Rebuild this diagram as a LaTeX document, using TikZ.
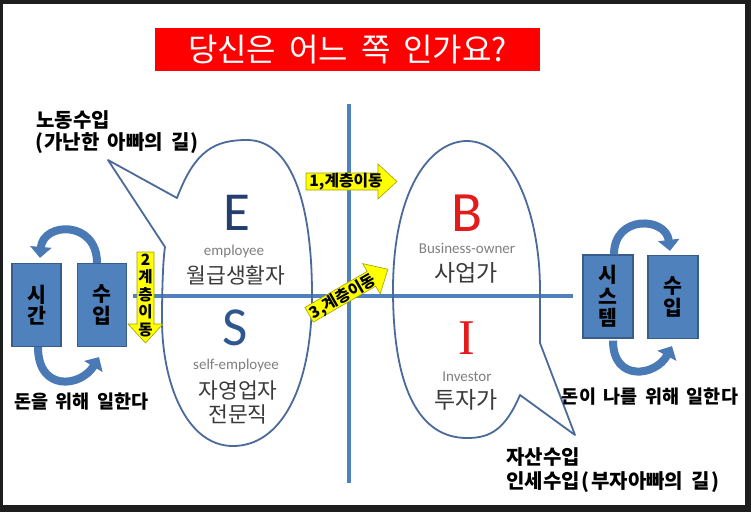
\documentclass[tikz,border=0pt]{standalone}
\usepackage{fontspec}
\setmainfont{Carlito}
\newfontfamily\kr{Noto Sans CJK KR}
\newfontfamily\krl[WordSpace=1.8]{Noto Sans CJK KR}
\newfontfamily\calf{Carlito}
\newfontfamily\tmsf{Liberation Serif}
\usetikzlibrary{arrows.meta}
\definecolor{axisblue}{HTML}{4F81BD}
\definecolor{bubblec}{HTML}{4A6A9C}
\definecolor{boxfill}{HTML}{4F81BD}
\definecolor{boxline}{HTML}{385D8A}
\definecolor{curvec}{HTML}{4A7AB5}
\definecolor{framec}{HTML}{1E1E1E}
\definecolor{titlered}{HTML}{FF0000}
\definecolor{ecol}{HTML}{243F6D}
\definecolor{scol}{HTML}{2E568F}
\definecolor{bred}{HTML}{E31B1B}
\definecolor{engray}{HTML}{7F7F7F}
\definecolor{krgray}{HTML}{3A3A3A}
\definecolor{yel}{HTML}{FFFF00}
\definecolor{yeld}{HTML}{A0A000}
\newcommand\fsz[1]{\fontsize{#1pt}{#1pt}\selectfont}
\tikzset{
  yarrow/.pic={\filldraw[fill=yel, draw=yeld, line width=0.6pt, line join=miter]
    (-45.5pt,-8.5pt) -- (26.5pt,-8.5pt) -- (26.5pt,-17.5pt) -- (45.5pt,0pt)
    -- (26.5pt,17.5pt) -- (26.5pt,8.5pt) -- (-45.5pt,8.5pt) -- cycle;}
}
\begin{document}
\begin{tikzpicture}[x=1pt,y=-1pt,
  lbl/.style={inner sep=0pt, font=\krl\bfseries\fsz{20}, text=black},
  lblm/.style={inner sep=0pt, font=\kr\bfseries\fsz{18.5}, text=black},
  engl/.style={inner sep=0pt, font=\calf\fsz{15}, text=engray},
  kor/.style={inner sep=0pt, font=\kr\fsz{21.5}, text=krgray},
  kor2/.style={inner sep=0pt, font=\kr\fsz{23}, text=krgray},
  bluebox/.style={draw=boxline, line width=1.2pt, fill=boxfill, minimum width=49pt,
     minimum height=83pt, inner sep=0pt, align=center,
     font=\kr\bfseries\fontsize{20.5pt}{21.5pt}\selectfont, text=black},
  axis/.style={draw=axisblue, line width=3.2pt},
  bubble/.style={draw=bubblec, line width=1.8pt, line join=round},
  curved/.style={draw=curvec, line width=8pt, -{Triangle[width=21pt,length=11pt]}},
  ytext/.style={inner sep=0pt, font=\kr\bfseries\fsz{15.8}, text=black},
]
\fill[framec] (0,0) rectangle (751,512);
\fill[white] (3,4) rectangle (745,505);
\useasboundingbox (0,0) rectangle (751,512);

% title
\node[fill=titlered, minimum width=385pt, minimum height=43pt, inner sep=0pt,
      font=\kr\fsz{32}, text=white] (title) at (347.5,49.5) {당신은 어느 쪽 인가요?};

% axes
\coordinate (vt) at (349,104); \coordinate (vb) at (349,483);
\coordinate (hl) at (133,296); \coordinate (hr) at (573,296);
\draw[axis] (vt) -- (vb);
\draw[axis] (hl) -- (hr);

% left bubble (E/S)
\draw[bubble] (108,160) -- (177,198) .. controls (195,150) and (215,140) .. (247,140)
  .. controls (290,140) and (312,200) .. (312,295)
  .. controls (312,390) and (280,446) .. (233,446)
  .. controls (185,446) and (162,380) .. (162,320)
  .. controls (162,290) and (163,260) .. (165,247) -- cycle;

% right bubble (B/I)
\draw[bubble] (575,435) -- (520,395) .. controls (505,430) and (490,438) .. (467,438)
  .. controls (420,438) and (393,390) .. (393,290)
  .. controls (393,190) and (430,141) .. (467,141)
  .. controls (510,141) and (540,210) .. (540,290)
  .. controls (540,310) and (540,330) .. (540,343) -- cycle;

% bubble texts
\node[inner sep=0pt, font=\calf\fsz{55}, text=ecol] (E) at (237,213) {E};
\node[engl] (emp) at (234,251) {employee};
\node[kor] (wol) at (236,275) {월급생활자};
\node[inner sep=0pt, font=\calf\fsz{55}, text=scol] (S) at (235,328) {S};
\node[engl] (semp) at (236,365) {self-employee};
\node[kor] (jay) at (238,390) {자영업자};
\node[kor] (jeon) at (238,414) {전문직};

\node[inner sep=0pt, font=\calf\fsz{57}, text=bred] (B) at (467,213) {B};
\node[engl] (bus) at (467,248) {Business-owner};
\node[kor2] (sa) at (466,273) {사업가};
\node[inner sep=0pt, font=\tmsf\fsz{50}, text=bred] (I) at (467,338) {I};
\node[engl] (inv) at (467,377) {Investor};
\node[kor2] (tu) at (466,400) {투자가};

% outer labels
\node[lbl, anchor=west] (nodong) at (36,120) {노동수입};
\node[lbl, anchor=west] (poor) at (35,143) {(\kern1pt 가난한 아빠의 길\kern1pt)};
\node[lblm] (donA) at (81.5,402) {돈을 위해 일한다};
\node[lblm] (donB) at (650,397) {돈이 나를 위해 일한다};
\node[lbl, anchor=west] (jasan) at (506,457) {자산수입};
\node[lbl, anchor=west] (rich) at (506,482) {인세수입\kern2pt(\kern1.5pt 부자아빠의 길\kern1.5pt)};

% blue boxes
\node[bluebox] (tim) at (36.5,305) {시\\간};
\node[bluebox] (inc) at (102,305) {수\\입};
\node[bluebox, minimum width=50pt] (sys) at (608,296.5) {시\\스\\템};
\node[bluebox, minimum width=50pt] (inc2) at (673,297) {수\\입};

% curved arrows
\draw[curved] ([xshift=-5pt]inc.north) .. controls +(0,-43) and +(3,-36) .. ([shift={(3.5,-5)}]tim.north);
\draw[curved] ([xshift=1.5pt]tim.south) .. controls +(0,45) and +(-18,30) .. ([shift={(-3,10)}]inc.south);
\draw[curved] ([xshift=6pt]sys.north) .. controls +(0,-40) and +(-4,-34) .. ([shift={(-3,-4)}]inc2.north);
\draw[curved] ([shift={(5,2)}]sys.south) .. controls +(0,42) and +(-16,30) .. ([shift={(-1,7)}]inc2.south);

% yellow arrows
\pic at (351.5,181.5) {yarrow};
\node[ytext] (m1) at (346,182) {1,계층이동};
\pic[rotate=-90] at (145.5,297.5) {yarrow};
\node[inner sep=0pt, align=center, font=\kr\bfseries\fontsize{15.5pt}{17.5pt}\selectfont] (m2) at (145.5,295.5) {2\\계\\층\\이\\동};
\pic[rotate=30] at (348.5,292) {yarrow};
\node[ytext, rotate=30] (m3) at (343,297) {3,계층이동};
\end{tikzpicture}
\end{document}
